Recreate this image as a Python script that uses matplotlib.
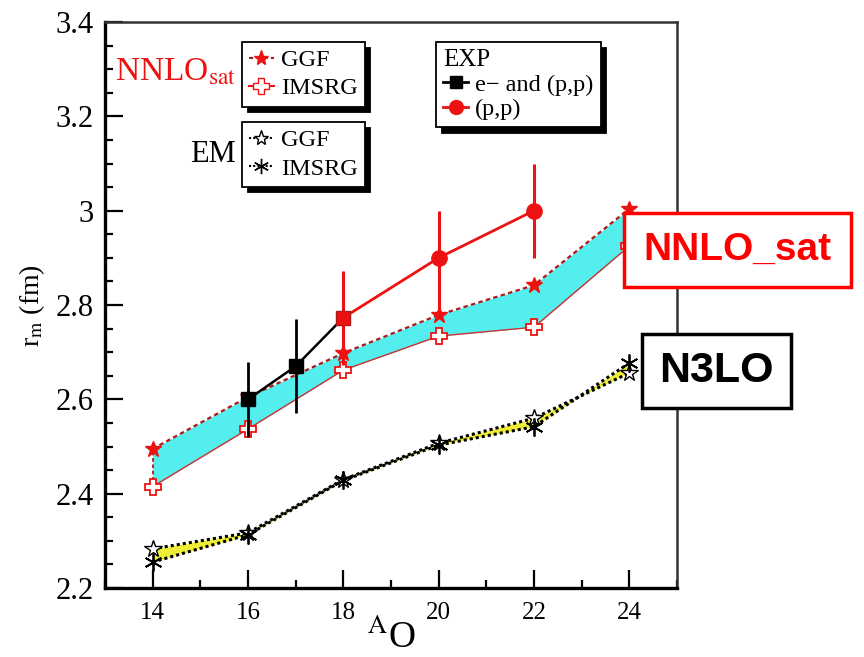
import matplotlib
matplotlib.use("Agg")
import matplotlib.pyplot as plt
from matplotlib.lines import Line2D
from matplotlib.ticker import MultipleLocator

plt.rcParams['font.family'] = ['Liberation Serif', 'DejaVu Serif']
plt.rcParams['mathtext.fontset'] = 'stix'

# ---- data ----
A = [14, 16, 18, 20, 22, 24]
nnlo_ggf = [2.495, 2.605, 2.698, 2.779, 2.842, 3.004]
nnlo_imsrg = [2.415, 2.537, 2.662, 2.734, 2.753, 2.925]
em_ggf = [2.283, 2.317, 2.430, 2.507, 2.560, 2.656]
em_imsrg = [2.255, 2.313, 2.428, 2.503, 2.542, 2.677]

exp_black_x = [16, 17, 18]
exp_black_y = [2.60, 2.67, 2.773]
exp_black_err = [0.08, 0.10, 0.0]

exp_red_x = [18, 20, 22]
exp_red_y = [2.773, 2.90, 3.00]
exp_red_err_lo = [0.10, 0.115, 0.10]
exp_red_err_hi = [0.10, 0.10, 0.10]

xticks = [14, 16, 18, 20, 22, 24]
yticks = [2.2, 2.4, 2.6, 2.8, 3.0, 3.2, 3.4]
ytick_labels = ['2.2', '2.4', '2.6', '2.8', '3', '3.2', '3.4']

RED = '#ee1111'
DRED = '#b01818'
CYAN = '#55eeee'
YEL = '#eeee3a'

fig = plt.figure(figsize=(8.64, 6.57), dpi=100)
ax = fig.add_axes([0.1215, 0.105, 0.662, 0.8615])

# bands
ax.fill_between(A, nnlo_imsrg, nnlo_ggf, color=CYAN, lw=0, zorder=1)
ax.fill_between(A, em_imsrg, em_ggf, color=YEL, lw=0, zorder=1)

# experiment
ax.errorbar(exp_black_x, exp_black_y, yerr=exp_black_err, color='black', lw=1.8,
            elinewidth=2, marker='s', ms=10, mfc='black', mec='black', capsize=0,
            zorder=4, markevery=[0, 1])
ax.errorbar(exp_red_x, exp_red_y, yerr=[exp_red_err_lo, exp_red_err_hi], color=RED, lw=2,
            elinewidth=2.2, marker='o', ms=11, mfc=RED, mec=RED, capsize=0,
            zorder=4, markevery=[1, 2])
ax.plot(exp_red_x[:1], exp_red_y[:1], 's', ms=10, color=RED, mec=DRED, zorder=5)

# NNLOsat
ax.plot(A, nnlo_ggf, color=DRED, ls=(0, (2, 1.5)), lw=1.6, marker='*', ms=12,
        mfc=RED, mec=RED, zorder=3)
ax.plot(A, nnlo_imsrg, color='#d03030', ls='-', lw=1.0, marker='P', ms=12,
        mfc='white', mec=RED, mew=1.3, zorder=3)
ax.plot([14, 14], [nnlo_imsrg[0], nnlo_ggf[0]], color=DRED, ls=(0, (2, 1.5)), lw=1.3, zorder=2)

# EM
ax.plot(A, em_ggf, color='black', ls=(0, (1, 1)), lw=2.2, marker='*', ms=13,
        mfc='white', mec='black', mew=1.0, zorder=3)
ax.plot(A, em_imsrg, color='black', ls=(0, (1, 1)), lw=2.2, marker=(6, 2, 0), ms=13,
        mec='black', mew=1.3, zorder=3)

ax.set_xlim(13, 25)
ax.set_ylim(2.2, 3.4)
ax.set_xticks(xticks)
ax.set_yticks(yticks)
ax.set_yticklabels(ytick_labels)
ax.xaxis.set_minor_locator(MultipleLocator(1))
ax.yaxis.set_minor_locator(MultipleLocator(0.05))
ax.tick_params(which='both', direction='in', top=False, right=False, width=1.6)
ax.tick_params(which='major', length=13)
ax.tick_params(which='minor', length=6)
ax.tick_params(axis='y', labelsize=22, pad=8)
ax.tick_params(axis='x', labelsize=18, pad=10)
for s in ['left', 'bottom']:
    ax.spines[s].set_linewidth(2.4)
for s in ['top', 'right']:
    ax.spines[s].set_linewidth(1.8)
    ax.spines[s].set_color('#333333')

ax.set_ylabel(r'r$_\mathrm{m}$ (fm)', fontsize=20, labelpad=6)
ax.set_xlabel(r'$^{\mathrm{A}}$O', fontsize=27, labelpad=-3)

shadow = {'color': 'black', 'alpha': 1.0, 'ox': 4, 'oy': -4}

def mk_leg(handles, labels, anchor, title=None, spacing=0.25):
    leg = ax.legend(handles, labels, loc='upper left', bbox_to_anchor=anchor,
                    prop={'family': 'Liberation Serif', 'size': 17.5}, frameon=True,
                    fancybox=False, shadow=shadow, handlelength=1.0, handletextpad=0.3,
                    borderpad=0.3, labelspacing=spacing, borderaxespad=0, title=title,
                    title_fontproperties={'family': 'Liberation Serif', 'size': 18},
                    alignment='left')
    leg.get_frame().set_edgecolor('black')
    leg.get_frame().set_linewidth(1.3)
    leg.set_zorder(10)
    return leg

h1 = [Line2D([], [], color=DRED, ls=(0, (2, 1.5)), marker='*', ms=11, mfc=RED, mec=RED),
      Line2D([], [], color=RED, ls='-', marker='P', ms=11, mfc='white', mec=RED)]
l1 = mk_leg(h1, ['GGF', 'IMSRG'], (0.2395, 0.9647))
ax.add_artist(l1)
h2 = [Line2D([], [], color='black', ls=(0, (1, 1)), marker='*', ms=11, mfc='white', mec='black'),
      Line2D([], [], color='black', ls=(0, (1, 1)), marker=(6, 2, 0), ms=11, mec='black')]
l2 = mk_leg(h2, ['GGF', 'IMSRG'], (0.2395, 0.823))
ax.add_artist(l2)
h3 = [Line2D([], [], color='black', marker='s', ms=9, lw=2),
      Line2D([], [], color=RED, marker='o', ms=10, lw=2)]
l3 = mk_leg(h3, ['e\u2212 and (p,p)', '(p,p)'], (0.579, 0.9647), title='EXP', spacing=0.1)

fig.text(236 / 864, 1 - 72 / 657, r'NNLO$_{\mathrm{sat}}$', color=RED, fontsize=24,
         ha='right', va='center')
fig.text(236 / 864, 1 - 155 / 657, 'EM', color='black', fontsize=22,
         ha='right', va='center')

fig.text(643 / 864, 1 - 250 / 657, 'NNLO_sat', color='#ff0000', fontsize=28,
         family='Liberation Sans', weight='bold', ha='left', va='center',
         bbox=dict(boxstyle='square,pad=0.5', fc='white', ec='#ff0000', lw=2.5), zorder=20)
fig.text(659 / 864, 1 - 371 / 657, 'N3LO', color='black', fontsize=31,
         family='Liberation Sans', weight='bold', ha='left', va='center',
         bbox=dict(boxstyle='square,pad=0.4', fc='white', ec='black', lw=2.5), zorder=20)

fig.savefig('out.png', dpi=100)
